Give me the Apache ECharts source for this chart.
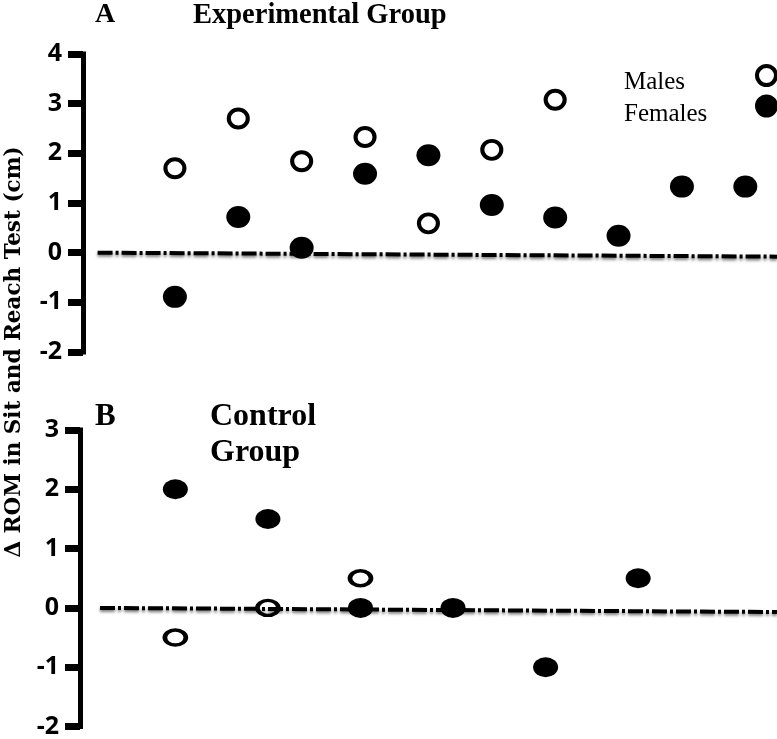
<!DOCTYPE html>
<html>
<head>
<meta charset="utf-8">
<script src="https://cdn.jsdelivr.net/npm/echarts@6/dist/echarts.min.js"></script>
<style>
html,body{margin:0;padding:0;background:#fff;}
#chart{width:777px;height:739px;}
</style>
</head>
<body>
<div id="chart"></div>
<script>
// Panel A: Experimental Group (subject index -> change in cm)
const subjectsA = [1, 2, 3, 4, 5, 6, 7, 8, 9, 10];
const malesA = [1.70, 2.70, 1.84, 2.33, 0.59, 2.07, 3.08];
const femalesA = [-0.89, 0.72, 0.10, 1.59, 1.96, 0.96, 0.71, 0.34, 1.33, 1.33];
// Panel B: Control Group
const subjectsB = [1, 2, 3, 4, 5, 6];
const malesB = [-0.5, 0.0, 0.5];
const femalesB = [2.0, 1.5, 0.0, 0.0, -1.0, 0.5];
const yTicksA = [-2, -1, 0, 1, 2, 3, 4];
const yTicksB = [-2, -1, 0, 1, 2, 3];

const ELLIPSE = 'path://M0,10 A10,10 0 1 0 20,10 A10,10 0 1 0 0,10 Z';

function pairs(xs, ys) { return ys.map((v, i) => [xs[i], v]); }

function yAxisCfg(grid, ticks) {
  return {
    type: 'value', gridIndex: grid,
    min: ticks[0], max: ticks[ticks.length - 1], interval: 1,
    axisLine: { show: true, onZero: false, lineStyle: { color: '#000', width: 5, cap: 'square' } },
    axisTick: { show: true, inside: false, length: 15, lineStyle: { color: '#000', width: 7 } },
    splitLine: { show: false },
    axisLabel: { color: '#000', fontFamily: 'Open Sans', fontWeight: 'bold', fontSize: 25, margin: 21 }
  };
}

const zeroLineStyle = { color: '#000', width: 4, type: [15, 3, 3, 3], opacity: 1, shadowColor: 'rgba(0,0,0,0.5)', shadowBlur: 3, shadowOffsetY: 2 };

const chart = echarts.init(document.getElementById('chart'));
chart.setOption({
  animation: false,
  backgroundColor: '#fff',
  title: [
    { text: 'A', left: 95, top: 1, padding: 0, textStyle: { fontFamily: 'Liberation Serif', fontWeight: 'bold', fontSize: 28, color: '#000' } },
    { text: 'Experimental Group', left: 193, top: 1, padding: 0, textStyle: { fontFamily: 'Liberation Serif', fontWeight: 'bold', fontSize: 28.5, color: '#000' } },
    { text: 'B', left: 95, top: 401, padding: 0, textStyle: { fontFamily: 'Liberation Serif', fontWeight: 'bold', fontSize: 31, color: '#000' } },
    { text: 'Control\nGroup', left: 210, top: 399, padding: 0, textStyle: { fontFamily: 'Liberation Serif', fontWeight: 'bold', fontSize: 32, lineHeight: 36, color: '#000' } },
    { text: 'Males\nFemales', left: 624, top: 66, padding: 0, textStyle: { fontFamily: 'Liberation Serif', fontWeight: 'normal', fontSize: 25, lineHeight: 32, color: '#000' } }
  ],
  legend: {
    orient: 'vertical', left: 755, top: 64, padding: 0,
    itemWidth: 20, itemHeight: 19, itemGap: 7.5,
    selectedMode: false,
    itemStyle: { borderWidth: 4, borderColor: '#000', opacity: 1 },
    formatter: function () { return ''; },
    data: ['Males', 'Females']
  },
  graphic: [{
    type: 'text', x: 14, y: 352, rotation: Math.PI / 2,
    style: { text: 'Δ ROM in Sit and Reach Test (cm)', font: 'bold 21.5px "DejaVu Serif"', textAlign: 'center', textVerticalAlign: 'middle', fill: '#000' }
  }],
  grid: [
    { left: 83, top: 54, width: 694, height: 298 },
    { left: 80, top: 430, width: 697, height: 297 }
  ],
  xAxis: [
    { type: 'value', gridIndex: 0, min: -0.45, max: 10.5, show: false },
    { type: 'value', gridIndex: 1, min: -0.03, max: 7.5, show: false }
  ],
  yAxis: [yAxisCfg(0, yTicksA), yAxisCfg(1, yTicksB)],
  series: [
    {
      name: 'Males', type: 'scatter', xAxisIndex: 0, yAxisIndex: 0, z: 3,
      symbol: ELLIPSE, symbolSize: [19, 18], symbolKeepAspect: false,
      itemStyle: { color: 'rgba(255,255,255,0)', borderColor: '#000', borderWidth: 4, opacity: 1 },
      data: pairs(subjectsA, malesA)
    },
    {
      name: 'Females', type: 'scatter', xAxisIndex: 0, yAxisIndex: 0, z: 3,
      symbol: ELLIPSE, symbolSize: [24, 22], symbolKeepAspect: false,
      itemStyle: { color: '#000', opacity: 1 },
      data: pairs(subjectsA, femalesA),
      markLine: {
        silent: true, z: 1, symbol: 'none', label: { show: false },
        lineStyle: zeroLineStyle,
        data: [[{ coord: [-0.22, 0] }, { coord: [10.5, -0.08] }]]
      }
    },
    {
      name: 'Males', type: 'scatter', xAxisIndex: 1, yAxisIndex: 1, z: 3,
      symbol: ELLIPSE, symbolSize: [21, 15], symbolKeepAspect: false,
      itemStyle: { color: 'rgba(255,255,255,0)', borderColor: '#000', borderWidth: 4, opacity: 1 },
      data: pairs(subjectsB, malesB)
    },
    {
      name: 'Females', type: 'scatter', xAxisIndex: 1, yAxisIndex: 1, z: 3,
      symbol: ELLIPSE, symbolSize: [25, 20], symbolKeepAspect: false,
      itemStyle: { color: '#000', opacity: 1 },
      data: pairs(subjectsB, femalesB),
      markLine: {
        silent: true, z: 1, symbol: 'none', label: { show: false },
        lineStyle: zeroLineStyle,
        data: [[{ coord: [0.186, 0] }, { coord: [7.5, -0.07] }]]
      }
    }
  ]
});
</script>
</body>
</html>
